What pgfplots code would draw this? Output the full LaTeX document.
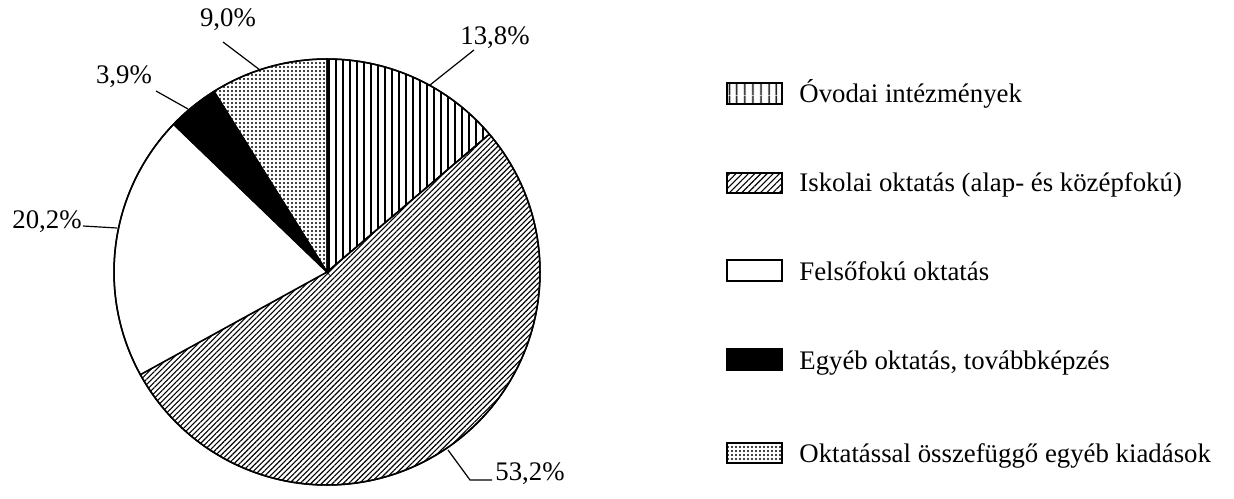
\documentclass[border=0pt]{standalone}
\usepackage{pgfplots}
\pgfplotsset{compat=1.18}
\usepackage{fontspec}
\setmainfont{Liberation Serif}
\usetikzlibrary{patterns.meta}
\tikzset{
  pA/.style={pattern={Lines[angle=90,distance=3.5pt,line width=0.9pt]}},
  pB/.style={pattern={Lines[angle=45,distance=1.9pt,line width=0.55pt]}},
  pC/.style={fill=white},
  pD/.style={fill=black},
  pE/.style={pattern={Dots[distance=2pt,radius=0.55pt]}},
}
\begin{document}
\begin{tikzpicture}[font=\fontsize{13.4pt}{15pt}\selectfont]
\begin{axis}[
  x=0.5pt, y=0.5pt, xmin=0, xmax=1234, ymin=0, ymax=491,
  hide axis, clip=false, scale only axis,
]
\path (axis cs:0,0) rectangle (axis cs:1234,491);
% pie: centre (327,219) in px, radius 213 px = 106.5pt; slices clockwise from 12 o'clock
\def\R{106.5pt}
\filldraw[pA, line width=0.75pt] (axis cs:327,219) -- ++(90:\R) arc[start angle=90, end angle={90-13.8*3.6}, radius=\R] -- cycle;
\filldraw[pB, line width=0.75pt] (axis cs:327,219) -- ++({90-13.8*3.6}:\R) arc[start angle={90-13.8*3.6}, end angle={90-(13.8+53.2)*3.6}, radius=\R] -- cycle;
\filldraw[pC, line width=0.75pt] (axis cs:327,219) -- ++({90-(13.8+53.2)*3.6}:\R) arc[start angle={90-(13.8+53.2)*3.6}, end angle={90-(13.8+53.2+20.2)*3.6}, radius=\R] -- cycle;
\filldraw[pD, line width=0.75pt] (axis cs:327,219) -- ++({90-(13.8+53.2+20.2)*3.6}:\R) arc[start angle={90-(13.8+53.2+20.2)*3.6}, end angle={90-(13.8+53.2+20.2+3.9)*3.6}, radius=\R] -- cycle;
\filldraw[pE, line width=0.75pt] (axis cs:327,219) -- ++({90-(13.8+53.2+20.2+3.9)*3.6}:\R) arc[start angle={90-(13.8+53.2+20.2+3.9)*3.6}, end angle=-270, radius=\R] -- cycle;
\draw[line width=0.75pt] (axis cs:327,219) circle[radius=\R];
% leader lines and labels
\draw[line width=0.6pt] (axis cs:430,406) -- (axis cs:474,441);
\node[inner sep=0] at (axis cs:495,453) {13,8\%};
\draw[line width=0.6pt] (axis cs:223,449) -- (axis cs:260,421);
\node[inner sep=0] at (axis cs:228,471) {9,0\%};
\draw[line width=0.6pt] (axis cs:156,400) -- (axis cs:188,382);
\node[inner sep=0] at (axis cs:124,414) {3,9\%};
\draw[line width=0.6pt] (axis cs:83,265) -- (axis cs:117,263);
\node[inner sep=0] at (axis cs:47,269) {20,2\%};
\draw[line width=0.6pt] (axis cs:448,41) -- (axis cs:470,11) -- (axis cs:492,11);
\node[inner sep=0] at (axis cs:530,17) {53,2\%};
% legend
\filldraw[pattern={Lines[angle=90,distance=4pt,line width=0.8pt]}, line width=0.6pt] (axis cs:727,387) rectangle (axis cs:782,408);
\node[inner sep=0, anchor=base west] at (axis cs:799,388) {Óvodai intézmények};
\filldraw[pattern={Lines[angle=45,distance=2.2pt,line width=0.55pt]}, line width=0.6pt] (axis cs:727,298) rectangle (axis cs:782,318);
\node[inner sep=0, anchor=base west] at (axis cs:799,299) {Iskolai oktatás (alap- és középfokú)};
\filldraw[fill=white, line width=0.6pt] (axis cs:727,210) rectangle (axis cs:782,231);
\node[inner sep=0, anchor=base west] at (axis cs:799,211) {Felsőfokú oktatás};
\filldraw[fill=black, line width=0.6pt] (axis cs:727,121) rectangle (axis cs:782,142);
\node[inner sep=0, anchor=base west] at (axis cs:799,122) {Egyéb oktatás, továbbképzés};
\filldraw[pattern={Dots[distance=2pt,radius=0.55pt]}, line width=0.6pt] (axis cs:727,28) rectangle (axis cs:782,48);
\node[inner sep=0, anchor=base west] at (axis cs:799,29) {Oktatással összefüggő egyéb kiadások};
\end{axis}
\end{tikzpicture}
\end{document}
